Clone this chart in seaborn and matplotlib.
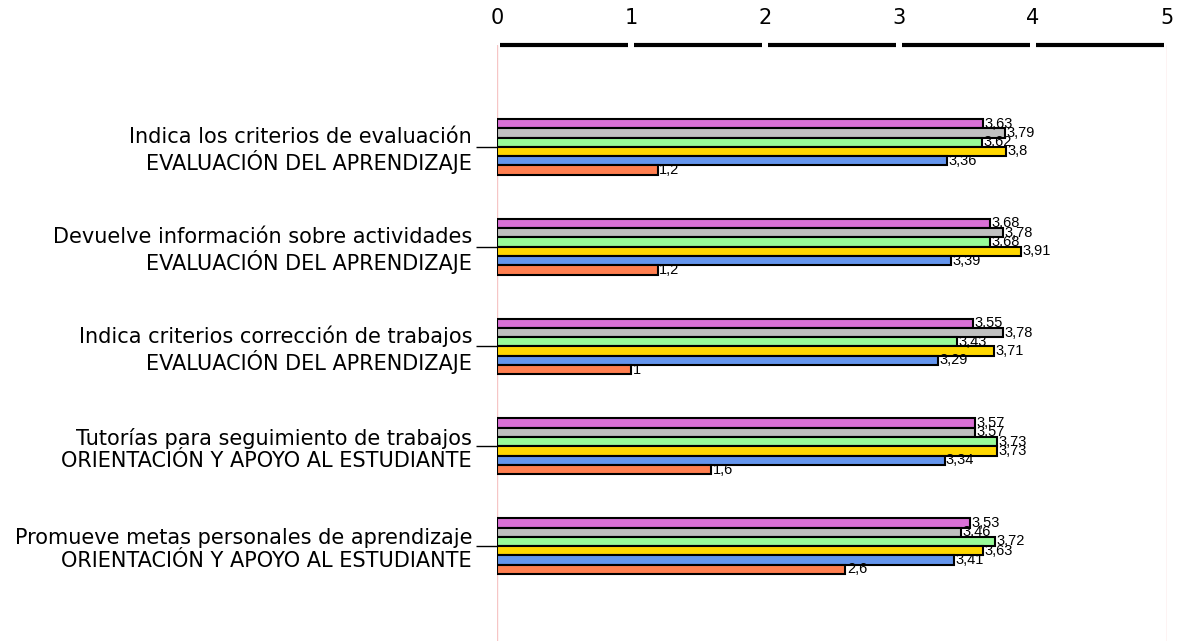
import pandas as pd
import matplotlib
matplotlib.use("Agg")
import matplotlib.pyplot as plt
import matplotlib.transforms as mtransforms
import seaborn as sns

# Categories (two-line labels) and series values
categories = [
    "Indica los criterios de evaluación\nEVALUACIÓN DEL APRENDIZAJE",
    "Devuelve información sobre actividades\nEVALUACIÓN DEL APRENDIZAJE",
    "Indica criterios corrección de trabajos\nEVALUACIÓN DEL APRENDIZAJE",
    "Tutorías para seguimiento de trabajos\nORIENTACIÓN Y APOYO AL ESTUDIANTE",
    "Promueve metas personales de aprendizaje\nORIENTACIÓN Y APOYO AL ESTUDIANTE",
]
series_names = ["Serie 1", "Serie 2", "Serie 3", "Serie 4", "Serie 5", "Serie 6"]
serie1 = [3.63, 3.68, 3.55, 3.57, 3.53]
serie2 = [3.79, 3.78, 3.78, 3.57, 3.46]
serie3 = [3.62, 3.68, 3.43, 3.73, 3.72]
serie4 = [3.8, 3.91, 3.71, 3.73, 3.63]
serie5 = [3.36, 3.39, 3.29, 3.34, 3.41]
serie6 = [1.2, 1.2, 1, 1.6, 2.6]
x_ticks = [0, 1, 2, 3, 4, 5]

colors = ["#DA70D6", "#C0C0C0", "#98FB98", "#FFD700", "#6495ED", "#FF7F50"]

all_series = [serie1, serie2, serie3, serie4, serie5, serie6]
rows = []
for name, vals in zip(series_names, all_series):
    for cat, v in zip(categories, vals):
        rows.append({"categoria": cat, "serie": name, "valor": v})
df = pd.DataFrame(rows)

sns.set_style("white")
fig = plt.figure(figsize=(11.84, 6.41), dpi=100)
ax = fig.add_axes([0.4198, 0.0, 0.5658, 0.9298])

sns.barplot(data=df, y="categoria", x="valor", hue="serie", order=categories,
            hue_order=series_names, palette=colors, orient="h", width=0.56,
            edgecolor="black", linewidth=1.5, saturation=1, legend=False, ax=ax)

# value labels with decimal comma, nudged slightly down
for cont, vals in zip(ax.containers, all_series):
    labs = [f"{v:g}".replace(".", ",") for v in vals]
    texts = ax.bar_label(cont, labels=labs, padding=1, fontsize=10.5,
                         family="Liberation Sans", color="black")
    for t in texts:
        t.set_transform(t.get_transform() +
                        mtransforms.ScaledTranslation(0, -2 / 100, fig.dpi_scale_trans))

ax.set_xlim(0, 5)
ax.set_ylim(4.95, -1.02)
ax.set_xlabel("")
ax.set_ylabel("")

# x axis on top
ax.xaxis.tick_top()
ax.set_xticks(x_ticks)
ax.set_xticklabels([str(t) for t in x_ticks], fontsize=15, color="black")
ax.tick_params(axis="x", length=0, pad=12)
ax.tick_params(axis="y", left=True, length=15, width=1, color="black",
               labelsize=15, labelcolor="black", pad=3)
for lab in ax.get_yticklabels():
    lab.set_horizontalalignment("right")
    lab.set_multialignment("right")
    lab.set_linespacing(1.15)

for s in ax.spines.values():
    s.set_visible(False)

# pink gridlines at the ends
for t in [x_ticks[0], x_ticks[-1]]:
    ax.axvline(t, color="#f6c6c6", lw=1, zorder=0)

# segmented thick top axis line
trans = mtransforms.blended_transform_factory(ax.transData, ax.transAxes)
for a, b in zip(x_ticks[:-1], x_ticks[1:]):
    ax.plot([a + 0.02, b - 0.02], [1.0, 1.0], color="black", lw=3,
            transform=trans, clip_on=False, solid_capstyle="butt")

fig.savefig("out.png", dpi=100)
